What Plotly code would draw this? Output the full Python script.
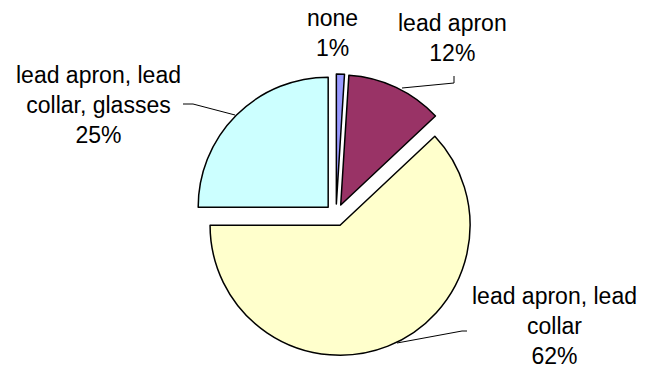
import plotly.graph_objects as go

# Data
labels = ["none", "lead apron", "lead apron, lead collar", "lead apron, lead collar, glasses"]
values = [1, 12, 62, 25]
colors = ["#9999FF", "#993366", "#FFFFCC", "#CCFFFF"]

# Label texts (as shown on chart)
label_texts = ["none<br>1%", "lead apron<br>12%", "lead apron, lead<br>collar<br>62%",
               "lead apron, lead<br>collar, glasses<br>25%"]

W, H = 645, 371
cx, cy, r, pull = 336, 215, 130, 0.085
half = r * (1 + pull)

def px(x):
    return x / W

def py(y):
    return 1 - y / H

fig = go.Figure(go.Pie(
    labels=labels,
    values=values,
    marker=dict(colors=colors, line=dict(color="black", width=1.5)),
    pull=[pull] * len(values),
    sort=False,
    direction="clockwise",
    rotation=0,
    textinfo="none",
    showlegend=False,
    domain=dict(x=[px(cx - half), px(cx + half)], y=[py(cy + half), py(cy - half)]),
))

# label positions (pixel centres)
label_pos = [(332, 33), (452, 38), (554, 326), (98, 105)]
annotations = []
for t, (x, y) in zip(label_texts, label_pos):
    annotations.append(dict(x=px(x), y=py(y), xref="paper", yref="paper", text=t,
                            showarrow=False, xanchor="center", yanchor="middle",
                            font=dict(family="Liberation Sans, Arial", size=23, color="black")))

leaders = [
    [(183, 104), (193, 104), (235, 115)],
    [(454, 76), (454, 83), (402, 88)],
    [(467, 331), (462, 331), (397, 343)],
]
shapes = []
for pts in leaders:
    path = "M " + " L ".join(f"{px(x)},{py(y)}" for x, y in pts)
    shapes.append(dict(type="path", path=path, xref="paper", yref="paper",
                       line=dict(color="black", width=1)))

fig.update_layout(width=W, height=H, margin=dict(l=0, r=0, t=0, b=0),
                  paper_bgcolor="white", plot_bgcolor="white",
                  annotations=annotations, shapes=shapes)

fig.write_html("out.html")
